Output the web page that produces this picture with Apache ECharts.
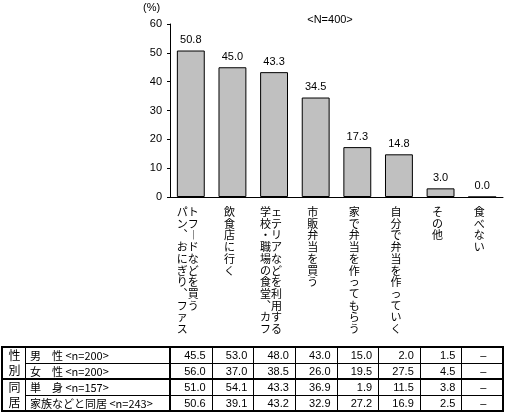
<!DOCTYPE html>
<html>
<head>
<meta charset="utf-8">
<script src="https://cdn.jsdelivr.net/npm/echarts@6/dist/echarts.min.js"></script>
<style>
  html, body { margin: 0; padding: 0; background: #fff; }
  #main { width: 513px; height: 414px; }
</style>
</head>
<body>
<div id="main"></div>
<script>
// 昼食のとり方（N=400）
var categories = [
  'パン、おにぎり、ファストフードなどを買う',
  '飲食店に行く',
  '学校・職場の食堂、カフェテリアなどを利用する',
  '市販弁当を買う',
  '家で弁当を作ってもらう',
  '自分で弁当を作っていく',
  'その他',
  '食べない'
];
var totalValues = [50.8, 45.0, 43.3, 34.5, 17.3, 14.8, 3.0, 0.0];
var yTicks = [0, 10, 20, 30, 40, 50, 60];

// 表（属性別）
var groupNames = ['性別', '同居'];
var rowNames = ['男　性 <n=200>', '女　性 <n=200>', '単　身 <n=157>', '家族などと同居 <n=243>'];
var maleValues = [45.5, 53.0, 48.0, 43.0, 15.0, 2.0, 1.5, null];
var femaleValues = [56.0, 37.0, 38.5, 26.0, 19.5, 27.5, 4.5, null];
var singleValues = [51.0, 54.1, 43.3, 36.9, 1.9, 11.5, 3.8, null];
var familyValues = [50.6, 39.1, 43.2, 32.9, 27.2, 16.9, 2.5, null];
var tableRows = [maleValues, femaleValues, singleValues, familyValues];

var CJK = '"Noto Sans CJK JP"';
var NUM = '"Liberation Sans", "Noto Sans CJK JP"';

// 縦書きラベル：11文字ごとに列を作り、左から右へ並べる
function verticalLabel(name) {
  var s = name.replace(/、/g, '︑').replace(/ー/g, '︱');
  var chars = Array.from(s);
  var cols = [];
  for (var i = 0; i < chars.length; i += 11) cols.push(chars.slice(i, i + 11));
  var n = cols[0].length;
  var lines = [];
  for (var r = 0; r < n; r++) {
    var line = '';
    for (var c = 0; c < cols.length; c++) line += cols[c][r] || '　';
    lines.push(line);
  }
  return lines.join('\n');
}

var chart = echarts.init(document.getElementById('main'));
var option = {
  animation: false,
  grid: { left: 170, right: 10, top: 24, bottom: 217, containLabel: false },
  xAxis: {
    type: 'category',
    data: categories,
    axisLine: { lineStyle: { color: '#000', width: 1 } },
    axisTick: { inside: true, length: 4, lineStyle: { color: '#000' } },
    axisLabel: {
      interval: 0,
      margin: 9,
      color: '#000',
      fontSize: 11,
      lineHeight: 11.7,
      fontFamily: CJK,
      padding: [0, 6, 0, 0],
      formatter: verticalLabel
    }
  },
  yAxis: {
    type: 'value',
    min: yTicks[0],
    max: yTicks[yTicks.length - 1],
    interval: 10,
    axisLine: { show: true, lineStyle: { color: '#000', width: 1 } },
    axisTick: { show: true, length: 3, lineStyle: { color: '#000' } },
    splitLine: { show: false },
    axisLabel: { color: '#000', fontSize: 11, fontFamily: NUM, margin: 8 }
  },
  series: [{
    type: 'bar',
    data: totalValues,
    barCategoryGap: '33%',
    itemStyle: { color: '#c0c0c0', borderColor: '#000', borderWidth: 1 },
    label: {
      show: true,
      position: 'top',
      distance: 5,
      color: '#000',
      fontSize: 11,
      fontFamily: NUM,
      formatter: function (p) { return p.value.toFixed(1); }
    }
  }]
};
chart.setOption(option);

// 表をグラフィックで描く（列はカテゴリ軸の位置に合わせる）
var centers = categories.map(function (c, i) {
  return chart.convertToPixel({ xAxisIndex: 0 }, i);
});
var half = (centers[1] - centers[0]) / 2;
var left = 2, groupRight = 25, labelRight = Math.round(centers[0] - half);
var right = Math.round(centers[centers.length - 1] + half);
var rowY = [347, 363, 379, 395, 411];
var g = [];

function hline(x1, x2, y, w) {
  var yy = w === 1 ? y + 0.5 : y;
  g.push({ type: 'line', shape: { x1: x1, y1: yy, x2: x2, y2: yy }, style: { stroke: '#000', lineWidth: w } });
}
function vline(x, y1, y2, w) {
  var xx = w === 1 ? x + 0.5 : x;
  g.push({ type: 'line', shape: { x1: xx, y1: y1, x2: xx, y2: y2 }, style: { stroke: '#000', lineWidth: w } });
}
function text(str, x, y, align, font) {
  g.push({ type: 'text', x: x, y: y, style: { text: str, fill: '#000', font: font, align: align, verticalAlign: 'middle' } });
}

hline(left - 1, right + 1, rowY[0], 2);
hline(groupRight, right, rowY[1], 1);
hline(left - 1, right + 1, rowY[2], 2);
hline(groupRight, right, rowY[3], 1);
hline(left - 1, right + 1, rowY[4], 2);
vline(left, rowY[0], rowY[4], 2);
vline(groupRight, rowY[0], rowY[4], 1);
vline(labelRight, rowY[0], rowY[4], 2);
for (var k = 1; k < centers.length; k++) {
  vline(Math.round(centers[k] - half), rowY[0], rowY[4], 1);
}
vline(right, rowY[0], rowY[4], 2);

groupNames.forEach(function (name, gi) {
  var top = rowY[gi * 2], bottom = rowY[gi * 2 + 2];
  var cx = (left + groupRight) / 2 + 1;
  text(name.charAt(0), cx, top + (bottom - top) * 0.27, 'center', '12px ' + CJK);
  text(name.charAt(1), cx, top + (bottom - top) * 0.73, 'center', '12px ' + CJK);
});
rowNames.forEach(function (name, ri) {
  var cy = (rowY[ri] + rowY[ri + 1]) / 2 + 0.5;
  text(name, groupRight + 5, cy, 'left', '11px ' + CJK);
  tableRows[ri].forEach(function (v, ci) {
    if (v === null) {
      text('–', centers[ci] + 1, cy, 'center', '11px ' + NUM);
    } else {
      text(v.toFixed(1), centers[ci] + half - 6, cy, 'right', '11px ' + NUM);
    }
  });
});

text('(%)', 143, 8, 'left', '11px ' + NUM);
text('<N=400>', 330, 20, 'center', '11px ' + NUM);

chart.setOption({ graphic: { elements: g } });
</script>
</body>
</html>
